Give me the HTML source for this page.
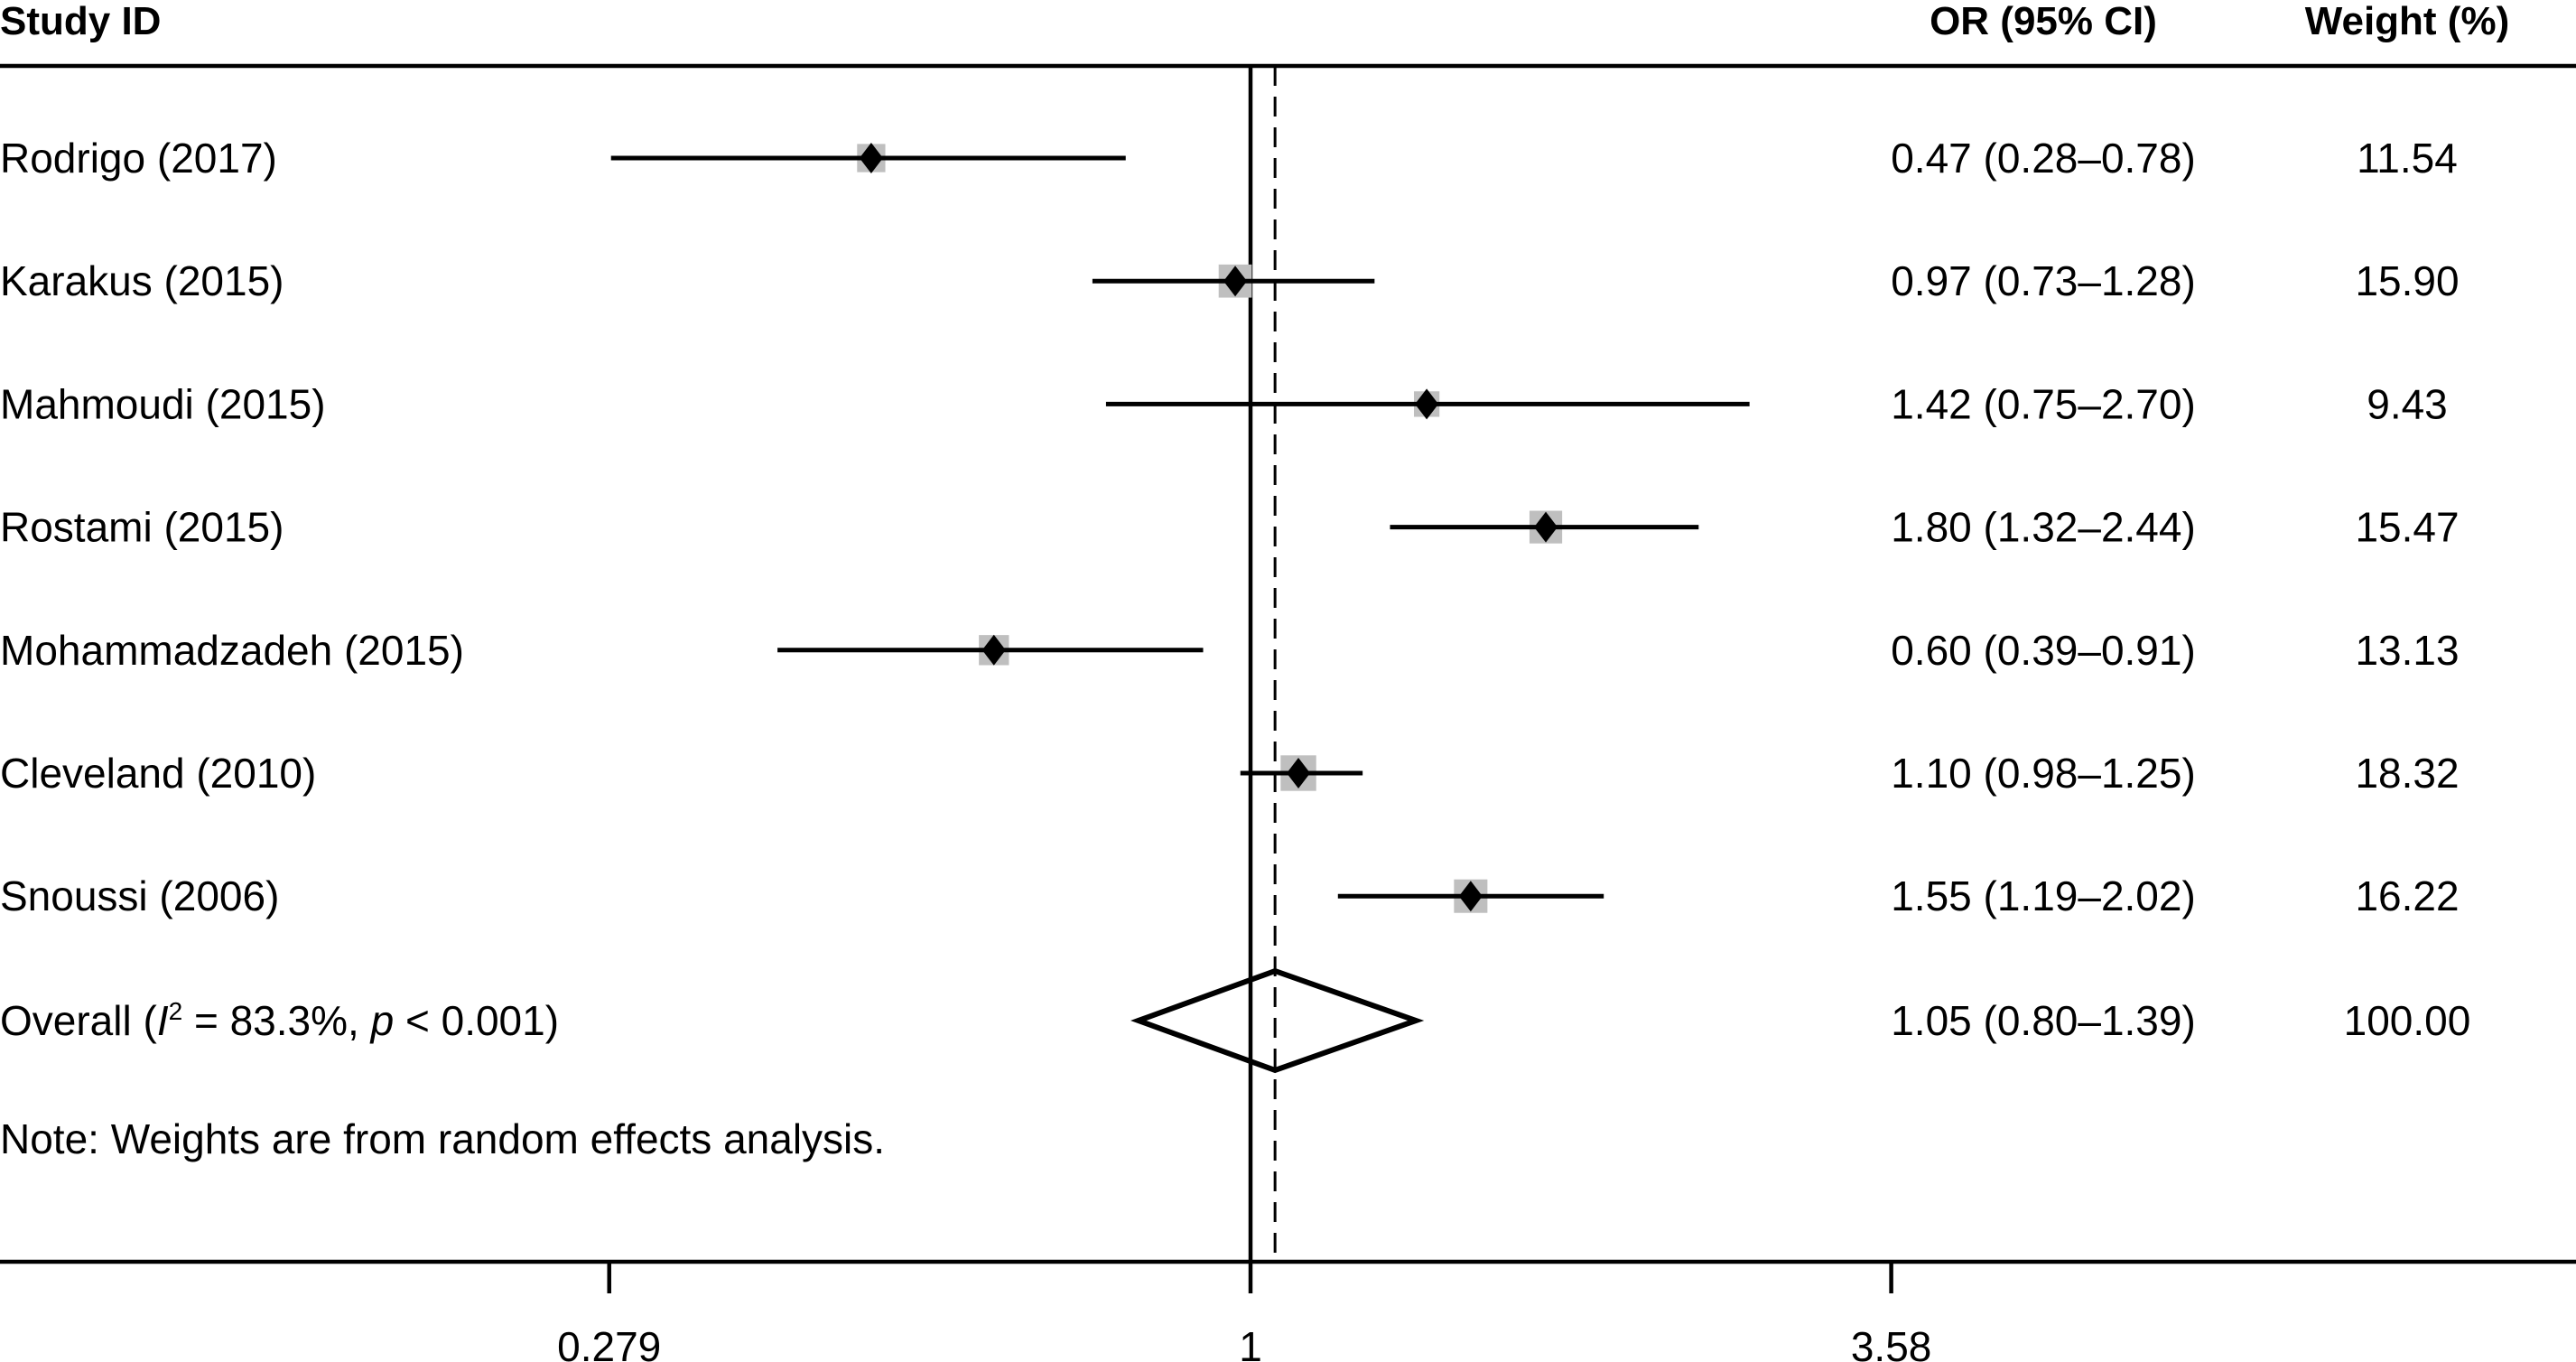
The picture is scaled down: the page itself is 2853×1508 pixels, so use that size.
<!DOCTYPE html>
<html><head><meta charset="utf-8">
<style>
html,body{margin:0;padding:0;background:#fff;}
svg{display:block;font-family:"Liberation Sans",sans-serif;}
</style></head>
<body>
<svg id="chart" width="2853" height="1508" viewBox="0 0 2853 1508" xmlns="http://www.w3.org/2000/svg">
<text x="0" y="38" font-size="44" font-weight="bold">Study ID</text>
<text x="2263" y="38" font-size="44" font-weight="bold" text-anchor="middle">OR (95% CI)</text>
<text x="2666" y="38" font-size="44" font-weight="bold" text-anchor="middle">Weight (%)</text>
<line x1="0" y1="73" x2="2853" y2="73" stroke="#000" stroke-width="4.5"/>
<line x1="0" y1="1397" x2="2853" y2="1397" stroke="#000" stroke-width="4.5"/>
<g id="marks"></g>
<text x="0" y="1146" font-size="46">Overall (<tspan font-style="italic">I</tspan><tspan font-size="28" dy="-17">2</tspan><tspan dy="17"> = 83.3%, </tspan><tspan font-style="italic">p</tspan> &lt; 0.001)</text>
<text x="2263" y="1146" font-size="46" text-anchor="middle">1.05 (0.80–1.39)</text>
<text x="2666" y="1146" font-size="46" text-anchor="middle">100.00</text>
<text x="0" y="1277" font-size="46">Note: Weights are from random effects analysis.</text>
</svg>
<script>
const studies = ["Rodrigo (2017)","Karakus (2015)","Mahmoudi (2015)","Rostami (2015)","Mohammadzadeh (2015)","Cleveland (2010)","Snoussi (2006)"];
const orValues = [0.47,0.97,1.42,1.80,0.60,1.10,1.55];
const lowerCI = [0.28,0.73,0.75,1.32,0.39,0.98,1.19];
const upperCI = [0.78,1.28,2.70,2.44,0.91,1.25,2.02];
const weights = [11.54,15.90,9.43,15.47,13.13,18.32,16.22];
const overall = [1.05,0.80,1.39];
const tickValues = [0.279,1,3.58];
const tickLabels = ["0.279","1","3.58"];

const NS="http://www.w3.org/2000/svg";
const g=document.getElementById('marks');
const svg=document.getElementById('chart');
const x0=1385, k=556.4;
function xs(v){return x0+k*Math.log(v);}
const rowY0=175, rowStep=136.2;
function ys(i){return rowY0+i*rowStep;}
function mk(tag,attrs,parent){const e=document.createElementNS(NS,tag);for(const a in attrs)e.setAttribute(a,attrs[a]);(parent||g).appendChild(e);return e;}

let e;
e=mk('line',{x1:xs(1),y1:73,x2:xs(1),y2:1397,stroke:'#000','stroke-width':4.5});


e=mk('line',{x1:xs(overall[0]),y1:73,x2:xs(overall[0]),y2:1397,stroke:'#000','stroke-width':3,'stroke-dasharray':'22,12'});



studies.forEach((s,i)=>{
  const y=ys(i);
  let t=mk('text',{x:0,y:y+16,'font-size':46},svg);t.textContent=s;
  
  
  const half=Math.sqrt(weights[i])*4.6;
  let b=mk('rect',{x:xs(orValues[i])-half,y:y-half,width:2*half,height:2*half,fill:'#bfbfbf'});
  
  
  let l=mk('line',{x1:xs(lowerCI[i]),y1:y,x2:xs(upperCI[i]),y2:y,stroke:'#000','stroke-width':5});
  
  
  const cx=xs(orValues[i]);
  let d=mk('polygon',{points:`${cx},${y-17} ${cx+13},${y} ${cx},${y+17} ${cx-13},${y}`,fill:'#000'});
  
  
  let o=mk('text',{x:2263,y:y+16,'font-size':46,'text-anchor':'middle'},svg);
  o.textContent=orValues[i].toFixed(2)+' ('+lowerCI[i].toFixed(2)+'–'+upperCI[i].toFixed(2)+')';
  
  
  let w=mk('text',{x:2666,y:y+16,'font-size':46,'text-anchor':'middle'},svg);
  w.textContent=weights[i].toFixed(2);
  
  
});

const oy=1130;
e=mk('polygon',{points:`${xs(overall[1])},${oy} ${xs(overall[0])},${oy-55} ${xs(overall[2])},${oy} ${xs(overall[0])},${oy+55}`,fill:'none',stroke:'#000','stroke-width':6});



tickValues.forEach((v,i)=>{
  let t=mk('line',{x1:xs(v),y1:1397,x2:xs(v),y2:1432,stroke:'#000','stroke-width':4.5});
  
  
  let lb=mk('text',{x:xs(v),y:1507,'font-size':46,'text-anchor':'middle'});
  lb.textContent=tickLabels[i];
  
  
});
</script>
</body></html>
